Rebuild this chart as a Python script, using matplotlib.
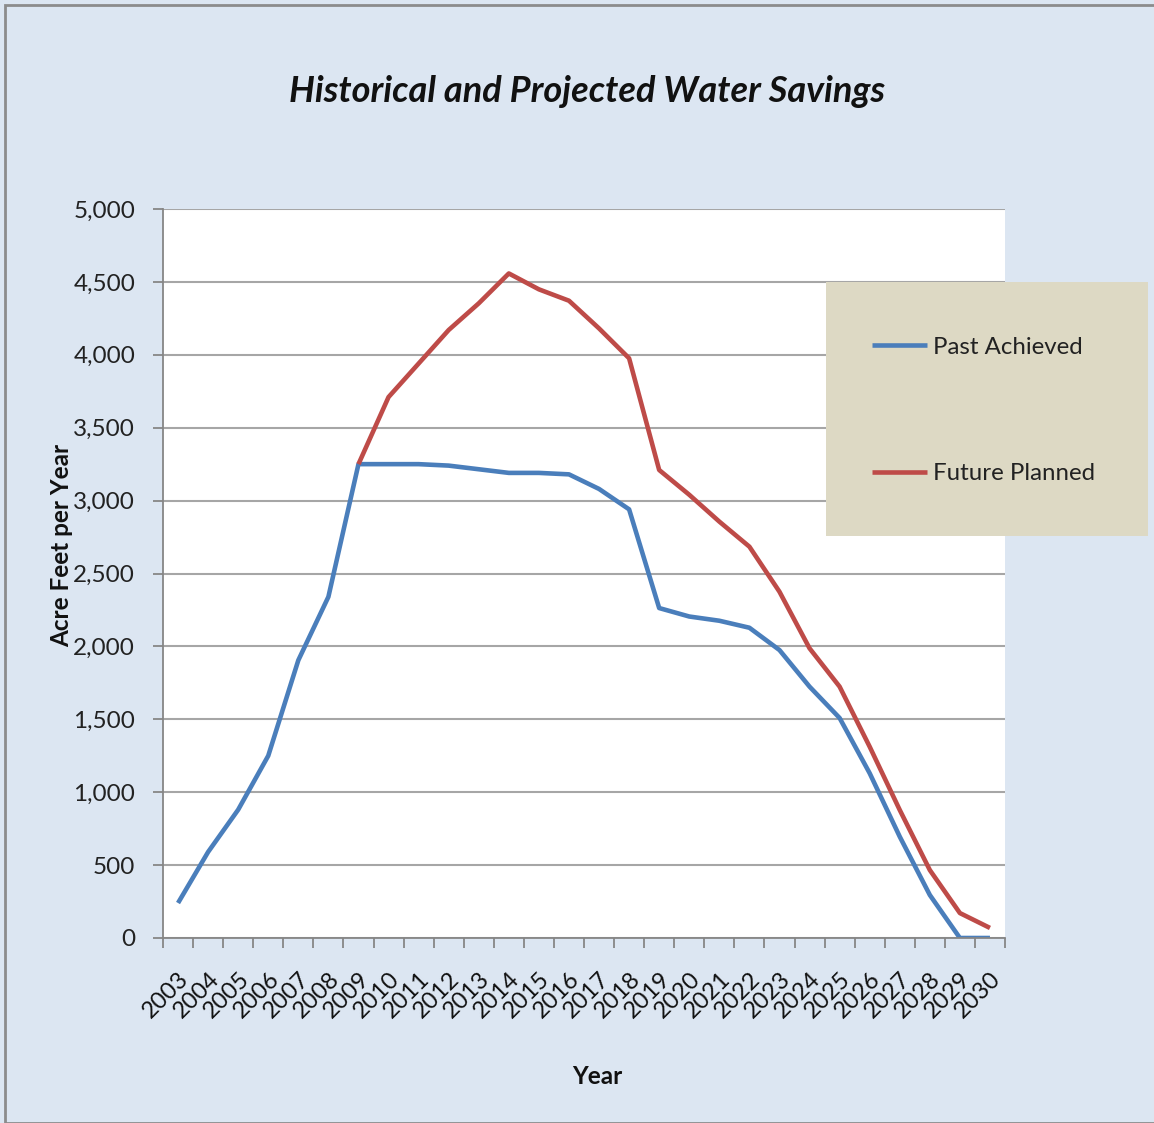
import matplotlib
matplotlib.use("Agg")
import matplotlib.pyplot as plt
from matplotlib.patches import Rectangle
from matplotlib.ticker import FuncFormatter

plt.rcParams['font.family'] = ['Lato', 'DejaVu Sans']

years = [str(y) for y in range(2003, 2031)]
past_achieved = [240, 590, 880, 1250, 1905, 2340, 3250, 3250, 3250, 3240, 3215, 3190,
                 3190, 3180, 3080, 2940, 2263, 2205, 2176, 2128, 1975, 1724, 1509,
                 1130, 695, 295, 0, 0]
# planned figures start where the achieved line peaks (2009)
future_years = years[6:]
future_planned = [3250, 3710, 3940, 4170, 4353, 4558, 4449, 4371, 4181, 3976, 3210,
                  3040, 2856, 2684, 2375, 1987, 1724, 1312, 878, 466, 171, 69]

bg = '#dce6f2'
blue = '#4a7ebb'
red = '#be4b48'

fig = plt.figure(figsize=(11.54, 11.23), dpi=100, facecolor=bg)
fig.patches.append(Rectangle((5 / 1154, 0), 1.0, 1 - 5 / 1123, transform=fig.transFigure,
                             facecolor='none', edgecolor='#8c8c8c', linewidth=2))

ax = fig.add_axes([163 / 1154, 185 / 1123, 842 / 1154, 729 / 1123])
ax.set_facecolor('white')

x_all = list(range(len(years)))
x_future = [years.index(y) for y in future_years]
ax.plot(x_all, past_achieved, color=blue, lw=3.3, label='Past Achieved', solid_capstyle='butt')
ax.plot(x_future, future_planned, color=red, lw=3.3, label='Future Planned', solid_capstyle='butt')

ax.set_xlim(-0.5, len(years) - 0.5)
ax.set_ylim(0, 5000)
ax.set_yticks(range(0, 5001, 500))
ax.yaxis.set_major_formatter(FuncFormatter(lambda v, p: f'{int(v):,}'))
ax.yaxis.grid(True, color='#a6a6a6', lw=1.5)
ax.set_axisbelow(True)

ax.set_xticks(x_all)
ax.set_xticks([i - 0.5 for i in range(len(years) + 1)], minor=True)
ax.set_xticklabels(years, rotation=45, ha='right', va='top', rotation_mode='anchor',
                   fontsize=17, color='#111111')
ax.tick_params(axis='x', which='major', length=0, pad=22)
ax.tick_params(axis='x', which='minor', length=7, width=1.3, color='#868686')
ax.tick_params(axis='y', length=7, width=1.3, color='#868686', labelsize=17.5,
               labelcolor='#222222', pad=13)

for side in ('top', 'right'):
    ax.spines[side].set_visible(False)
for side in ('left', 'bottom'):
    ax.spines[side].set_color('#868686')
    ax.spines[side].set_linewidth(1.3)

fig.text(587 / 1154, 1 - 91 / 1123, 'Historical and Projected Water Savings',
         ha='center', va='center', fontsize=26, fontweight='bold', style='italic',
         color='#111111')
fig.text(62 / 1154, 1 - 545 / 1123, 'Acre Feet per Year', rotation=90, ha='center',
         va='center', fontsize=17.5, fontweight='bold', color='#111111')
fig.text(597 / 1154, 1 - 1077 / 1123, 'Year', ha='center', va='center', fontsize=17.5,
         fontweight='bold', color='#111111')

# legend panel sticking out past the plot on the right
fig.patches.append(Rectangle((826 / 1154, 1 - 536 / 1123), 322 / 1154, 254 / 1123,
                             transform=fig.transFigure, facecolor='#ddd9c4',
                             edgecolor='none', zorder=3))
leg = fig.legend(loc='upper left', bbox_to_anchor=(862 / 1154, 1 - 327 / 1123),
                 frameon=False, fontsize=17.3, handlelength=2.3, handletextpad=0.25,
                 labelspacing=4.4, borderaxespad=0)
leg.set_zorder(4)
for t in leg.get_texts():
    t.set_color('#222222')

fig.savefig('out.png', dpi=100, facecolor=bg)
